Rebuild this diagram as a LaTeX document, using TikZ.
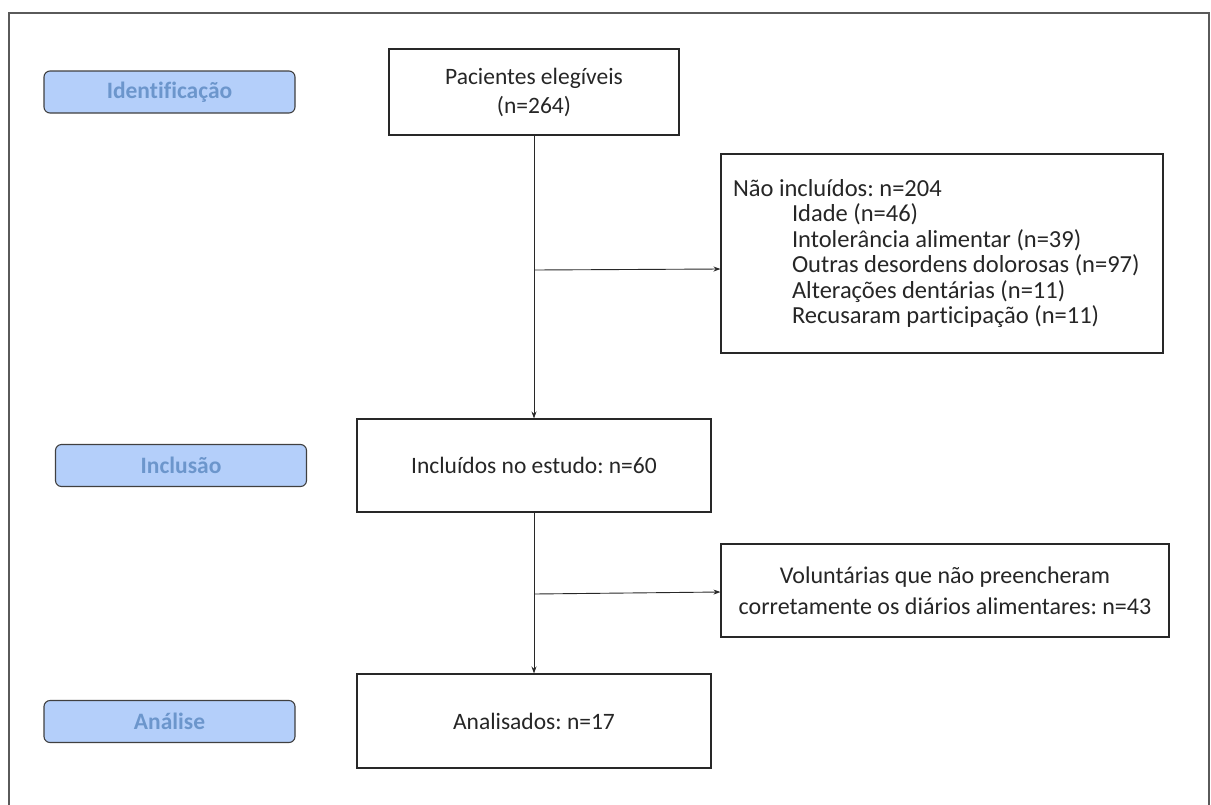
\documentclass[tikz,border=0pt]{standalone}
\usepackage{fontspec}
\setmainfont[Ligatures=NoCommon]{Carlito}
\usetikzlibrary{arrows.meta}
\definecolor{lblfill}{RGB}{180,207,250}
\definecolor{lbltext}{RGB}{108,150,204}
\definecolor{lineC}{RGB}{40,40,40}
\definecolor{frameC}{RGB}{90,90,90}
\tikzset{
  flowbox/.style={draw=lineC, line width=1.1pt, fill=white, inner sep=0pt, align=center,
    font=\frenchspacing\fontsize{23.5}{29}\selectfont, text=black!85},
  stagebox/.style={draw=black!75, line width=1.1pt, fill=lblfill, rounded corners=6pt,
    minimum width=251pt, minimum height=42pt, inner sep=0pt,
    font=\bfseries\fontsize{23.5}{26}\selectfont, text=lbltext},
  conn/.style={draw=lineC, line width=0.9pt, -{Stealth[length=7pt,width=5pt]}},
}
\begin{document}
\begin{tikzpicture}[x=1pt,y=-1pt]
\useasboundingbox (0,0) rectangle (1211,804);
\begin{scope}
\clip (0,0) rectangle (1211,804);
\draw[frameC, line width=1.5pt] (9,13) rectangle (1209,820);
\end{scope}

% stage labels
\node[stagebox] (sid) at (169.5,92) {Identificação};
\node[stagebox] (sinc) at (181,465.5) {Inclusão};
\node[stagebox] (san) at (169.5,721.5) {Análise};

% flow boxes
\node[flowbox, minimum width=290pt, minimum height=86pt] (pac) at (534,92)
  {Pacientes elegíveis\\(n=264)};
\node[flowbox, minimum height=199pt, inner xsep=12pt,
  font=\frenchspacing\fontsize{24.5}{25.5}\selectfont] (nao) at (942,253.5)
  {\parbox{418pt}{\raggedright\frenchspacing
   Não incluídos: n=204\\
   \hspace*{59pt}Idade (n=46)\\
   \hspace*{59pt}Intolerância alimentar (n=39)\\
   \hspace*{59pt}Outras desordens dolorosas (n=97)\\
   \hspace*{59pt}Alterações dentárias (n=11)\\
   \hspace*{59pt}Recusaram participação (n=11)}};
\node[flowbox, minimum width=354pt, minimum height=93pt] (inc) at (534,465.5)
  {Incluídos no estudo: n=60};
\node[flowbox, minimum width=448pt, minimum height=93pt,
  font=\frenchspacing\fontsize{24}{31}\selectfont] (vol) at (945,590.5)
  {Voluntárias que não preencheram\\corretamente os diários alimentares: n=43};
\node[flowbox, minimum width=354pt, minimum height=94pt] (ana) at (534,721)
  {Analisados: n=17};

% connectors
\coordinate (b1) at (534,270);
\coordinate (b2) at (534,594);
\draw[conn] (pac.south) -- (inc.north);
\draw[conn] (inc.south) -- (ana.north);
\draw[conn] (b1) -- (nao.west |- 0,269);
\draw[conn] (b2) -- (vol.west |- 0,592);
\end{tikzpicture}
\end{document}
